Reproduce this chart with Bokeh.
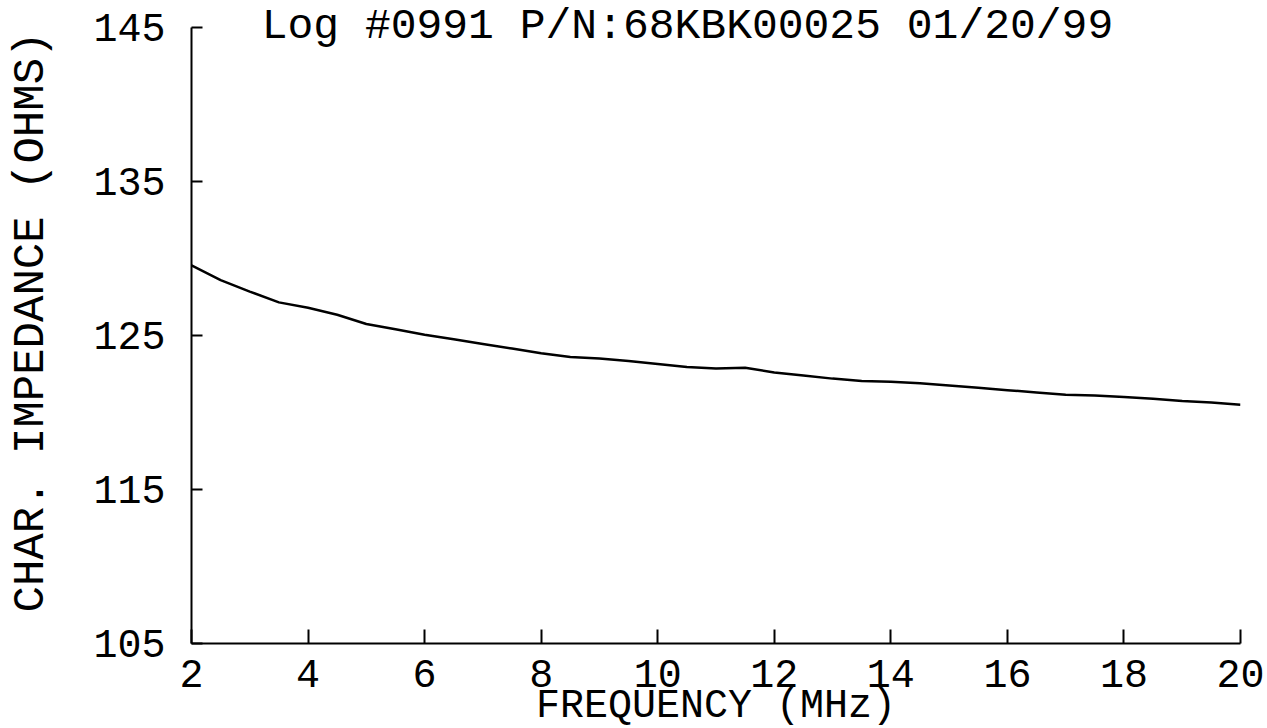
from bokeh.plotting import figure
from bokeh.models import Range1d, Label, FixedTicker
from bokeh.embed import file_html
from bokeh.resources import INLINE

# ---- data ----
freq_mhz = [2.0, 2.5, 3.0, 3.5, 4.0, 4.5, 5.0, 5.5, 6.0, 6.5, 7.0, 7.5, 8.0, 8.5,
            9.0, 9.5, 10.0, 10.5, 11.0, 11.5, 12.0, 12.5, 13.0, 13.5, 14.0, 14.5,
            15.0, 15.5, 16.0, 16.5, 17.0, 17.5, 18.0, 18.5, 19.0, 19.5, 20.0]
impedance = [129.55, 128.6, 127.85, 127.15, 126.8, 126.35, 125.75, 125.4, 125.05,
             124.75, 124.45, 124.15, 123.85, 123.6, 123.5, 123.35, 123.15, 122.95,
             122.85, 122.9, 122.6, 122.4, 122.2, 122.05, 122.0, 121.9, 121.75,
             121.6, 121.45, 121.3, 121.15, 121.1, 121.0, 120.9, 120.75, 120.65, 120.5]
x_ticks = [2, 4, 6, 8, 10, 12, 14, 16, 18, 20]
y_ticks = [105, 115, 125, 135, 145]
title_text = "Log #0991 P/N:68KBK00025 01/20/99"
x_label = "FREQUENCY (MHz)"
y_label = "CHAR. IMPEDANCE (OHMS)"

FONT = "Liberation Mono"
FS = "40px"

Y_MIN, Y_MAX = 105, 145
# frame extends a little above the top tick so the header text is not clipped
Y_TOP = Y_MAX + 27 * (Y_MAX - Y_MIN) / 616.0

p = figure(frame_width=1049, frame_height=643,
           x_range=Range1d(2, 20), y_range=Range1d(Y_MIN, Y_TOP),
           output_backend="svg", toolbar_location=None,
           min_border_left=191, min_border_right=27,
           min_border_top=0, min_border_bottom=0)
p.outline_line_color = None
p.background_fill_color = "white"
p.border_fill_color = "white"
p.xgrid.visible = False
p.ygrid.visible = False

p.line(freq_mhz, impedance, line_color="black", line_width=2.5)

for ax in (p.xaxis[0], p.yaxis[0]):
    ax.axis_line_color = "black"
    ax.axis_line_width = 2
    ax.major_tick_line_color = "black"
    ax.major_tick_line_width = 2
    ax.major_tick_out = 0
    ax.minor_tick_line_color = None
    ax.major_label_text_font = FONT
    ax.major_label_text_font_size = FS
    ax.major_label_text_color = "black"
    ax.axis_label_text_font = FONT
    ax.axis_label_text_font_size = FS
    ax.axis_label_text_font_style = "normal"
    ax.axis_label_text_color = "black"

p.xaxis[0].ticker = FixedTicker(ticks=x_ticks)
p.yaxis[0].ticker = FixedTicker(ticks=y_ticks)
p.yaxis[0].bounds = (Y_MIN, Y_MAX)
p.xaxis[0].major_tick_in = 14
p.yaxis[0].major_tick_in = 11
p.xaxis[0].major_label_standoff = 16
p.yaxis[0].major_label_standoff = 26
p.xaxis[0].axis_label = x_label
p.yaxis[0].axis_label = y_label
p.yaxis[0].axis_label_text_font_size = "44px"
p.xaxis[0].axis_label_standoff = -6
p.yaxis[0].axis_label_standoff = 34

title = Label(x=10.51, y=Y_MAX, x_units="data", y_units="data", text=title_text,
              text_font=FONT, text_font_size="43px", text_color="black",
              text_align="center", text_baseline="middle", y_offset=1)
p.add_layout(title)

open("out.html", "w").write(file_html(p, INLINE))
